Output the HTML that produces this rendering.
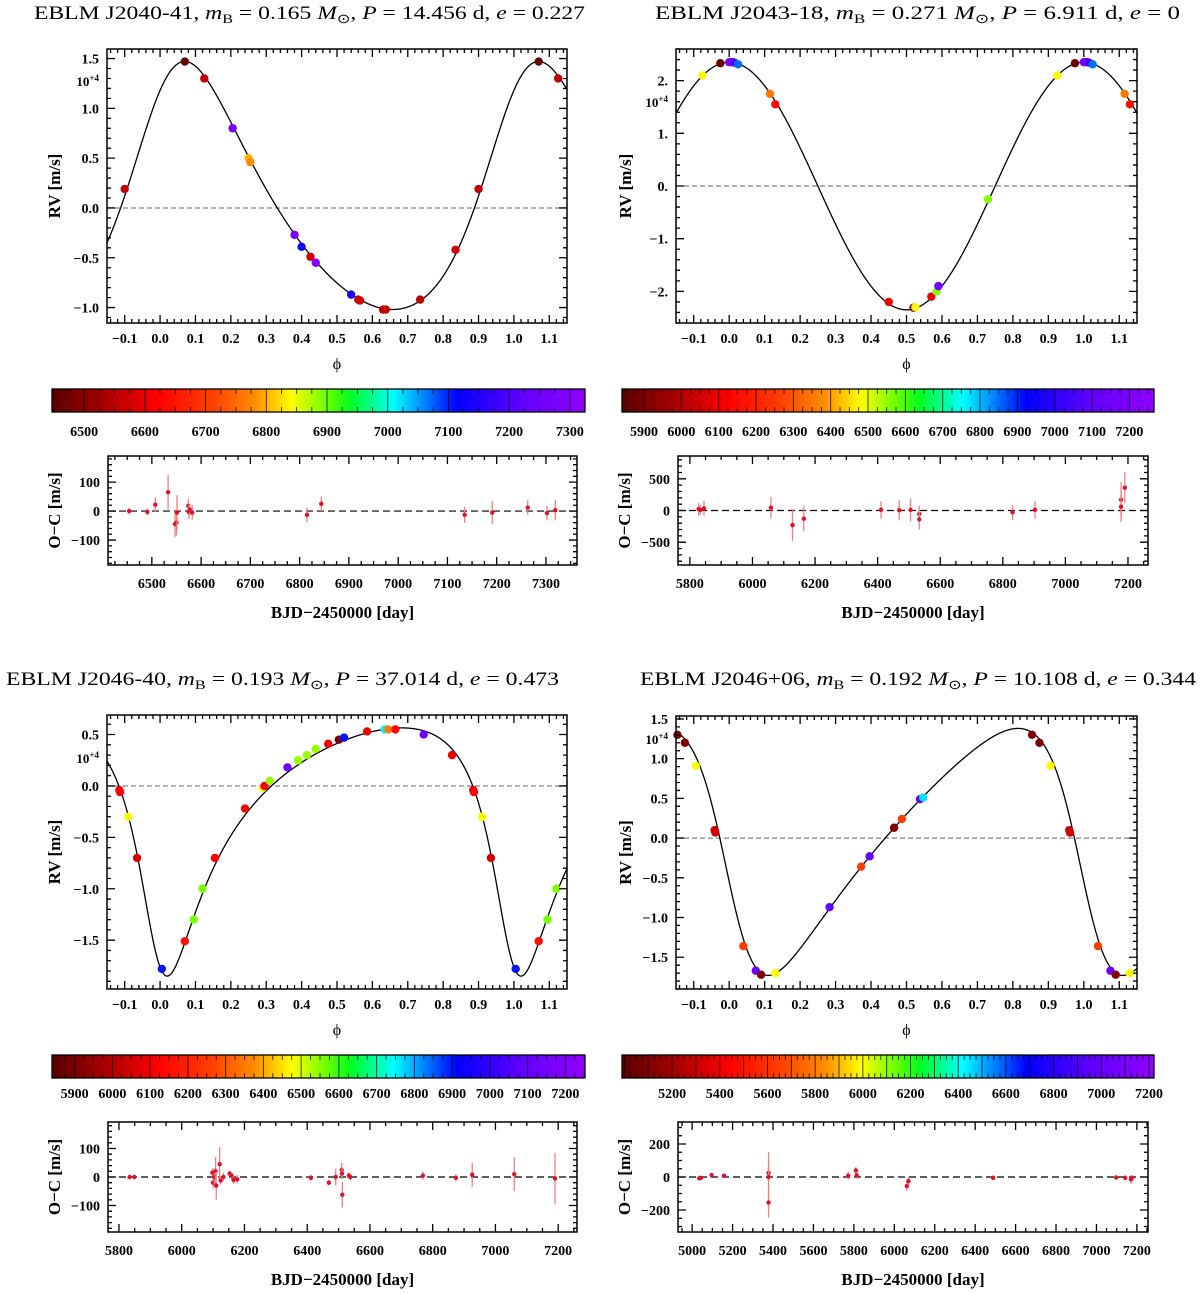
<!DOCTYPE html>
<html><head><meta charset="utf-8">
<style>
html,body{margin:0;padding:0;background:#fff;}
svg{display:block;font-family:"Liberation Serif",serif;}
svg text{font-family:"Liberation Serif",serif;}
</style></head>
<body>
<svg id="fig" width="1200" height="1294" viewBox="0 0 1200 1294" xmlns="http://www.w3.org/2000/svg" font-family="Liberation Serif, serif">
<defs>
<linearGradient id="rainbow" x1="0" x2="1" y1="0" y2="0">
<stop offset="0" stop-color="#5a0000"/><stop offset="0.1" stop-color="#a80000"/>
<stop offset="0.2" stop-color="#ff0000"/><stop offset="0.3" stop-color="#ff4000"/>
<stop offset="0.38" stop-color="#ff8c00"/><stop offset="0.45" stop-color="#ffff00"/>
<stop offset="0.52" stop-color="#60ff00"/><stop offset="0.56" stop-color="#00ff20"/>
<stop offset="0.64" stop-color="#00ffff"/><stop offset="0.70" stop-color="#0080ff"/>
<stop offset="0.76" stop-color="#0000ff"/><stop offset="0.88" stop-color="#6000ff"/>
<stop offset="1" stop-color="#9000ff"/>
</linearGradient>
</defs>
<text x="34" y="19" font-size="19" textLength="551" lengthAdjust="spacingAndGlyphs">EBLM J2040-41, <tspan font-style="italic">m</tspan><tspan font-size="13" dy="4">B</tspan><tspan dy="-4"> = 0.165 </tspan><tspan font-style="italic">M</tspan><tspan font-size="13" dy="4">⊙</tspan><tspan dy="-4">, </tspan><tspan font-style="italic">P</tspan> = 14.456 d, <tspan font-style="italic">e</tspan> = 0.227</text>
<text x="655" y="19" font-size="19" textLength="525" lengthAdjust="spacingAndGlyphs">EBLM J2043-18, <tspan font-style="italic">m</tspan><tspan font-size="13" dy="4">B</tspan><tspan dy="-4"> = 0.271 </tspan><tspan font-style="italic">M</tspan><tspan font-size="13" dy="4">⊙</tspan><tspan dy="-4">, </tspan><tspan font-style="italic">P</tspan> = 6.911 d, <tspan font-style="italic">e</tspan> = 0</text>
<text x="6" y="685" font-size="19" textLength="553" lengthAdjust="spacingAndGlyphs">EBLM J2046-40, <tspan font-style="italic">m</tspan><tspan font-size="13" dy="4">B</tspan><tspan dy="-4"> = 0.193 </tspan><tspan font-style="italic">M</tspan><tspan font-size="13" dy="4">⊙</tspan><tspan dy="-4">, </tspan><tspan font-style="italic">P</tspan> = 37.014 d, <tspan font-style="italic">e</tspan> = 0.473</text>
<text x="640" y="685" font-size="19" textLength="556" lengthAdjust="spacingAndGlyphs">EBLM J2046+06, <tspan font-style="italic">m</tspan><tspan font-size="13" dy="4">B</tspan><tspan dy="-4"> = 0.192 </tspan><tspan font-style="italic">M</tspan><tspan font-size="13" dy="4">⊙</tspan><tspan dy="-4">, </tspan><tspan font-style="italic">P</tspan> = 10.108 d, <tspan font-style="italic">e</tspan> = 0.344</text>
</svg>
<script>
// ---------- data: panel 1 (J2040-41) ----------
const p1Phase=[0.90,0.07,0.125,0.205,0.25,0.255,0.38,0.40,0.425,0.44,0.54,0.56,0.565,0.63,0.638,0.735,0.835];
const p1RV=[0.19,1.47,1.30,0.80,0.50,0.46,-0.27,-0.39,-0.49,-0.55,-0.87,-0.92,-0.93,-1.02,-1.02,-0.92,-0.42];
const p1Time=[6560,6460,6560,7270,6800,6780,7270,7130,6580,7300,7140,6570,6575,6560,6565,6550,6570];
const p1Orbit=[1.245,0.227,-37,0.005,0]; // K, e, omega(deg), tp, gamma
const p1OcBjd=[6454,6491,6507,6533,6547,6550,6551,6574,6575,6577,6582,6815,6844,7135,7191,7263,7302,7319];
const p1OcRes=[0,-3,22,65,-45,-40,-5,18,-3,5,-5,-13,25,-13,-5,12,-7,3];
const p1OcErr=[12,12,25,60,45,45,60,25,25,20,25,25,25,28,40,25,25,35];
const p1CbTicks=[6500,6600,6700,6800,6900,7000,7100,7200,7300];
const p1OcXTicks=[6500,6600,6700,6800,6900,7000,7100,7200,7300];
const p1OcYTicks=[100,0,-100];
const p1RVTicks=[1.5,1.0,0.5,0.0,-0.5,-1.0];
const p1RVTickLabels=["1.5","1.0","0.5","0.0","−0.5","−1.0"];
// ---------- data: panel 2 (J2043-18) ----------
const p2Phase=[0.925,0.975,0.0,0.005,0.01,0.015,0.025,0.115,0.13,0.45,0.52,0.525,0.57,0.585,0.59,0.73];
const p2RV=[2.10,2.33,2.35,2.35,2.35,2.34,2.31,1.75,1.55,-2.20,-2.31,-2.30,-2.10,-2.00,-1.90,-0.25];
const p2Time=[6480,5870,7150,7200,7180,7050,6850,6350,6150,6100,5900,6480,6100,6560,7150,6560];
const p2Orbit=[2.35,0,0,0,0];
const p2OcBjd=[5828,5833,5845,6059,6128,6164,6411,6469,6505,6533,6533,6831,6903,7178,7178,7190];
const p2OcRes=[20,10,35,45,-230,-130,10,5,10,-55,-140,-30,10,170,60,360];
const p2OcErr=[100,80,120,170,250,200,140,160,180,130,160,120,140,280,240,250];
const p2CbTicks=[5900,6000,6100,6200,6300,6400,6500,6600,6700,6800,6900,7000,7100,7200];
const p2OcXTicks=[5800,6000,6200,6400,6600,6800,7000,7200];
const p2OcYTicks=[500,0,-500];
const p2RVTicks=[2,1,0,-1,-2];
const p2RVTickLabels=["2.","1.","0.","−1.","−2."];
// ---------- data: panel 3 (J2046-40) ----------
const p3Phase=[0.885,0.887,0.91,0.935,0.005,0.07,0.095,0.12,0.155,0.24,0.29,0.295,0.31,0.36,0.39,0.415,0.44,0.475,0.505,0.52,0.585,0.635,0.645,0.665,0.745,0.825];
const p3RV=[-0.04,-0.06,-0.30,-0.70,-1.78,-1.51,-1.30,-1.00,-0.70,-0.22,-0.02,0.00,0.05,0.18,0.25,0.30,0.36,0.41,0.45,0.47,0.53,0.55,0.55,0.55,0.50,0.30];
const p3Time=[6100,6120,6480,6050,6900,6150,6560,6560,6120,6120,6480,6100,6540,7150,6540,6540,6540,6100,5900,6900,6100,6750,6350,6120,7150,6100];
const p3Orbit=[1.207,0.473,150,-0.007,-0.148];
const p3OcBjd=[5834,5849,6098,6100,6104,6108,6110,6121,6124,6133,6153,6159,6165,6177,6412,6469,6491,6510,6511,6512,6533,6538,6769,6874,6926,7060,7190];
const p3OcRes=[0,0,15,-20,0,20,-30,45,-12,0,12,5,-10,-8,-3,-20,0,25,12,-62,5,0,5,-3,8,10,-5];
const p3OcErr=[8,8,15,20,30,50,50,60,15,15,10,12,15,15,10,10,30,25,20,45,12,12,15,12,42,60,90];
const p3CbTicks=[5900,6000,6100,6200,6300,6400,6500,6600,6700,6800,6900,7000,7100,7200];
const p3OcXTicks=[5800,6000,6200,6400,6600,6800,7000,7200];
const p3OcYTicks=[100,0,-100];
const p3RVTicks=[0.5,0.0,-0.5,-1.0,-1.5];
const p3RVTickLabels=["0.5","0.0","−0.5","−1.0","−1.5"];
// ---------- data: panel 4 (J2046+06) ----------
const p4Phase=[0.854,0.875,0.906,0.959,0.961,0.04,0.075,0.09,0.13,0.283,0.372,0.396,0.465,0.487,0.538,0.547];
const p4RV=[1.30,1.20,0.91,0.10,0.07,-1.36,-1.67,-1.72,-1.70,-0.87,-0.36,-0.23,0.13,0.24,0.49,0.51];
const p4Time=[5100,5100,6000,5300,5320,5650,7000,5100,6000,7000,5650,7000,5100,5650,7000,6450];
const p4Orbit=[1.555,0.344,109,0.0065,0];
const p4OcBjd=[5035,5043,5096,5158,5378,5378,5378,5772,5810,5814,6062,6070,6489,7098,7142,7171,7175];
const p4OcRes=[-8,-5,12,8,25,0,-155,8,40,10,-55,-25,-5,-3,-5,-15,-5];
const p4OcErr=[10,10,10,10,60,150,90,25,20,20,30,25,15,10,15,25,15];
const p4CbTicks=[5200,5400,5600,5800,6000,6200,6400,6600,6800,7000,7200];
const p4OcXTicks=[5000,5200,5400,5600,5800,6000,6200,6400,6600,6800,7000,7200];
const p4OcYTicks=[200,0,-200];
const p4RVTicks=[1.5,1.0,0.5,0.0,-0.5,-1.0,-1.5];
const p4RVTickLabels=["1.5","1.0","0.5","0.0","−0.5","−1.0","−1.5"];
const phaseTicks=[-0.1,0,0.1,0.2,0.3,0.4,0.5,0.6,0.7,0.8,0.9,1.0,1.1];

// ---------- rendering ----------
const NS='http://www.w3.org/2000/svg';
const svg=document.getElementById('fig');
function mk(tag,attrs,name,parent){
  const el=document.createElementNS(NS,tag);
  for(const k in attrs) el.setAttribute(k,attrs[k]);
  
  
  (parent||svg).appendChild(el);
  return el;
}
function txt(s,attrs,name,parent){const t=mk('text',attrs,name,parent);t.textContent=s;return t;}
const stops=[[0,[90,0,0]],[0.1,[168,0,0]],[0.2,[255,0,0]],[0.3,[255,64,0]],[0.38,[255,140,0]],[0.45,[255,255,0]],[0.52,[96,255,0]],[0.56,[0,255,32]],[0.64,[0,255,255]],[0.70,[0,128,255]],[0.76,[0,0,255]],[0.88,[96,0,255]],[1,[144,0,255]]];
function cmap(f){
  f=Math.max(0,Math.min(1,f));
  for(let i=1;i<stops.length;i++){
    if(f<=stops[i][0]){const a=stops[i-1],b=stops[i];const t=(f-a[0])/(b[0]-a[0]);
      const c=a[1].map((v,j)=>Math.round(v+(b[1][j]-v)*t));return 'rgb('+c.join(',')+')';}
  }
  return 'rgb(144,0,255)';
}
function lin(d0,d1,r0,r1){return v=>r0+(v-d0)/(d1-d0)*(r1-r0);}
function rvModel(orb,ph){
  const [K,e,wd,tp,g]=orb; const w=wd*Math.PI/180;
  let M=2*Math.PI*(ph-tp); let E=M;
  for(let i=0;i<40;i++){E=E-(E-e*Math.sin(E)-M)/(1-e*Math.cos(E));}
  const nu=2*Math.atan2(Math.sqrt(1+e)*Math.sin(E/2),Math.sqrt(1-e)*Math.cos(E/2));
  return g+K*(Math.cos(nu+w)+e*Math.cos(w));
}
function ticks(g,fr,sx,sy,xmaj,xmin,ymaj,ymin,name){
  const [x0,x1,y0,y1]=fr; let d='';
  const add=(v,len,horiz)=>{
    if(horiz){const x=sx(v);if(x<x0||x>x1)return;d+=`M${x},${y1}v${-len}M${x},${y0}v${len}`;}
    else{const y=sy(v);if(y<y0||y>y1)return;d+=`M${x0},${y}h${len}M${x1},${y}h${-len}`;}
  };
  xmin.forEach(v=>add(v,4,true)); xmaj.forEach(v=>add(v,8,true));
  ymin.forEach(v=>add(v,4,false)); ymaj.forEach(v=>add(v,8,false));
  mk('path',{d:d,stroke:'#000','stroke-width':1.3,fill:'none'},name,g);
}
function range(a,b,s){const r=[];for(let v=a;v<=b+1e-9;v+=s)r.push(+v.toFixed(6));return r;}

function rvPanel(id,fr,yr,phase,rv,time,orb,tRange,yt,ytl,ymin,expo,ytitleX){
  const g=mk('g',{},id+'-rv-plot');
  const [x0,x1,y0,y1]=fr;
  const sx=lin(-0.15,1.15,x0,x1), sy=lin(yr[1],yr[0],y0,y1);
  mk('line',{x1:x0,x2:x1,y1:sy(0),y2:sy(0),stroke:'#666','stroke-width':1,'stroke-dasharray':'5,3'},'zero-line',g);
  let d='';
  for(let i=0;i<=1300;i++){const ph=-0.15+i*1.3/1300;const y=sy(rvModel(orb,ph));d+=(i?'L':'M')+sx(ph).toFixed(2)+','+y.toFixed(2);}
  const cp=mk('clipPath',{id:id+'clip'},'clip',g);
  mk('rect',{x:x0,y:y0,width:x1-x0,height:y1-y0},'clip-rect',cp);
  mk('path',{d:d,stroke:'#000','stroke-width':1.3,fill:'none','clip-path':`url(#${id}clip)`},'orbit-model-curve',g);
  phase.forEach((p,i)=>{
    [p-1,p,p+1].forEach(pp=>{
      if(pp<-0.15||pp>1.15)return;
      mk('circle',{cx:sx(pp),cy:sy(rv[i]),r:4.2,fill:cmap((time[i]-tRange[0])/(tRange[1]-tRange[0]))},'rv-point',g);
    });
  });
  mk('rect',{x:x0,y:y0,width:x1-x0,height:y1-y0,fill:'none',stroke:'#000','stroke-width':1.5},'rv-frame',g);
  ticks(g,fr,sx,sy,phaseTicks,range(-0.14,1.14,0.02),yt,ymin,'rv-ticks');
  phaseTicks.forEach(v=>txt((v<0?'−':'')+Math.abs(v).toFixed(1),{x:sx(v),y:y1+20,'font-size':14,'font-weight':'bold','text-anchor':'middle'},'phase-tick-label',g));
  yt.forEach((v,i)=>txt(ytl[i],{x:x0-8,y:sy(v)+5,'font-size':14,'font-weight':'bold','text-anchor':'end'},'rv-tick-label',g));
  const e=txt('10',{x:x0-8,y:expo,'font-size':13,'font-weight':'bold','text-anchor':'end'},'rv-scale-exponent',g);
  const ts=mk('tspan',{'font-size':9,dy:-5},'exponent-sup',e); ts.textContent='+4';
  txt('ϕ',{x:(x0+x1)/2,y:y1+46,'font-size':16,'text-anchor':'middle'},'x-axis-title-phase',g);
  txt('RV [m/s]',{x:ytitleX,y:(y0+y1)/2,'font-size':17,'font-weight':'bold','text-anchor':'middle',transform:`rotate(-90 ${ytitleX} ${(y0+y1)/2})`},'y-axis-title-rv',g);
}
function colorbar(id,fr,tRange,labels,ly){
  const g=mk('g',{},id+'-colorbar');
  const [x0,x1,y0,y1]=fr; const sx=lin(tRange[0],tRange[1],x0,x1);
  mk('rect',{x:x0,y:y0,width:x1-x0,height:y1-y0,fill:'url(#rainbow)',stroke:'#000','stroke-width':1.3},'colorbar-gradient',g);
  let d='';
  for(let v=Math.ceil(tRange[0]/25)*25;v<=tRange[1];v+=25){
    const x=sx(v);
    if(v%100===0)d+=`M${x},${y0}V${y1}`; else d+=`M${x},${y0}v5M${x},${y1}v-5`;
  }
  mk('path',{d:d,stroke:'#000','stroke-width':0.9,'stroke-opacity':0.8,fill:'none'},'colorbar-ticks',g);
  labels.forEach(v=>txt(String(v),{x:sx(v),y:ly,'font-size':14,'font-weight':'bold','text-anchor':'middle'},'colorbar-tick-label',g));
}
function ocPanel(id,fr,xr,yr,bjd,res,err,xt,xminStep,yt,yminStep,ytitleX){
  const g=mk('g',{},id+'-oc-plot');
  const [x0,x1,y0,y1]=fr;
  const sx=lin(xr[0],xr[1],x0,x1), sy=lin(yr[1],yr[0],y0,y1);
  mk('line',{x1:x0,x2:x1,y1:sy(0),y2:sy(0),stroke:'#000','stroke-width':1.2,'stroke-dasharray':'7,4'},'oc-zero-line',g);
  bjd.forEach((b,i)=>{
    mk('line',{x1:sx(b),x2:sx(b),y1:Math.max(y0,sy(res[i]+err[i])),y2:Math.min(y1,sy(res[i]-err[i])),stroke:'#f08080','stroke-width':1.3},'oc-error-bar',g);
    mk('circle',{cx:sx(b),cy:sy(res[i]),r:2.2,fill:'#e0102a'},'oc-point',g);
  });
  mk('rect',{x:x0,y:y0,width:x1-x0,height:y1-y0,fill:'none',stroke:'#000','stroke-width':1.5},'oc-frame',g);
  ticks(g,fr,sx,sy,xt,range(Math.ceil(xr[0]/xminStep)*xminStep,xr[1],xminStep),yt,range(Math.ceil(yr[0]/yminStep)*yminStep,yr[1],yminStep),'oc-ticks');
  xt.forEach(v=>txt(String(v),{x:sx(v),y:y1+23,'font-size':14,'font-weight':'bold','text-anchor':'middle'},'oc-x-tick-label',g));
  yt.forEach(v=>txt((v<0?'−':'')+Math.abs(v),{x:x0-8,y:sy(v)+5,'font-size':14,'font-weight':'bold','text-anchor':'end'},'oc-y-tick-label',g));
  txt('BJD−2450000 [day]',{x:(x0+x1)/2,y:y1+53,'font-size':17,'font-weight':'bold','text-anchor':'middle'},'x-axis-title-bjd',g);
  txt('O−C [m/s]',{x:ytitleX,y:(y0+y1)/2,'font-size':17,'font-weight':'bold','text-anchor':'middle',transform:`rotate(-90 ${ytitleX} ${(y0+y1)/2})`},'y-axis-title-oc',g);
}
// panel 1
rvPanel('p1',[107,567,49,323],[-1.155,1.596],p1Phase,p1RV,p1Time,p1Orbit,[6447,7325],p1RVTicks,p1RVTickLabels,range(-1.1,1.5,0.1),86,60);
colorbar('p1',[52,585,389,412],[6447,7325],p1CbTicks,436);
ocPanel('p1',[108,577,456,565],[6411,7363],[-186,190],p1OcBjd,p1OcRes,p1OcErr,p1OcXTicks,25,p1OcYTicks,20,60);
// panel 2
rvPanel('p2',[676,1137,49,323],[-2.6,2.6],p2Phase,p2RV,p2Time,p2Orbit,[5841,7266],p2RVTicks,p2RVTickLabels,range(-2.6,2.6,0.2),107,631);
colorbar('p2',[622,1154,389,412],[5841,7266],p2CbTicks,436);
ocPanel('p2',[678,1148,456,565],[5762,7264],[-860,860],p2OcBjd,p2OcRes,p2OcErr,p2OcXTicks,50,p2OcYTicks,100,630);
// panel 3
rvPanel('p3',[107,567,715,989],[-1.975,0.69],p3Phase,p3RV,p3Time,p3Orbit,[5840,7252],p3RVTicks,p3RVTickLabels,range(-1.9,0.6,0.1),763,60);
colorbar('p3',[52,585,1055,1078],[5840,7252],p3CbTicks,1098);
ocPanel('p3',[108,577,1122,1232],[5765,7260],[-193,193],p3OcBjd,p3OcRes,p3OcErr,p3OcXTicks,50,p3OcYTicks,20,60);
// panel 4
rvPanel('p4',[676,1137,716,989],[-1.90,1.537],p4Phase,p4RV,p4Time,p4Orbit,[4990,7221],p4RVTicks,p4RVTickLabels,range(-1.9,1.5,0.1),744,631);
colorbar('p4',[622,1154,1055,1078],[4990,7221],p4CbTicks,1098);
ocPanel('p4',[678,1148,1122,1232],[4930,7255],[-333,333],p4OcBjd,p4OcRes,p4OcErr,p4OcXTicks,50,p4OcYTicks,50,630);
</script>
</body></html>
